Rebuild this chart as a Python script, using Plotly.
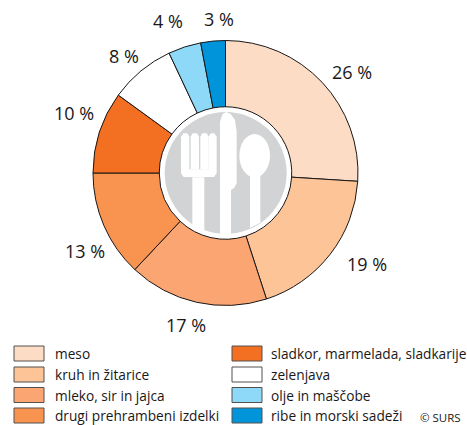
import plotly.graph_objects as go

categories = ["meso", "kruh in žitarice", "mleko, sir in jajca", "drugi prehrambeni izdelki",
              "sladkor, marmelada, sladkarije", "zelenjava", "olje in maščobe", "ribe in morski sadeži"]
values = [26, 19, 17, 13, 10, 8, 4, 3]
colors = ["#FDDCC6", "#FDC498", "#FBA672", "#F99450", "#F36F21", "#FFFFFF", "#8ED8F8", "#0095DA"]
label_positions = [(352, 72), (367, 264), (186, 325), (85, 251), (74, 113), (124, 56), (168, 21), (219, 19)]
W, H = 467, 425
FONT = "Open Sans, Noto Sans, sans-serif"
INK = "#1A1718"


def X(x):
    return x / W


def Y(y):
    return 1 - y / H


def zp(zx, zy):
    """zoomed icon coordinates to paper coordinates"""
    return X(140 + zx / 3), Y(90 + zy / 3)


def path(points, close=True):
    s = "M " + " L ".join(f"{a:.5f},{b:.5f}" for a, b in (zp(*p) for p in points))
    return s + (" Z" if close else "")


fig = go.Figure(go.Pie(
    values=values, labels=categories, sort=False, direction="clockwise", rotation=0,
    hole=0.5, textinfo="none", hoverinfo="label+percent", showlegend=False,
    marker=dict(colors=colors, line=dict(color=INK, width=1)),
    domain=dict(x=[X(93), X(358)], y=[Y(305.5), Y(40.5)]),
))

shapes = []
annotations = []


def paper_shape(**kw):
    kw.setdefault("line_width", 0)
    shapes.append(dict(xref="paper", yref="paper", layer="above", **kw))


def zcircle(cx, cy, rx, ry, fill):
    x0, y0 = zp(cx - rx, cy - ry)
    x1, y1 = zp(cx + rx, cy + ry)
    paper_shape(type="circle", x0=x0, y0=y0, x1=x1, y1=y1, fillcolor=fill)


def zpoly(points, fill):
    paper_shape(type="path", path=path(points), fillcolor=fill)


GRAY = "#D1D3D4"
zcircle(257, 249, 183, 183, GRAY)
# fork
zpoly([(157, 262), (193, 262), (193, 424), (157, 405)], "#FFFFFF")
zpoly([(123, 140), (130, 130), (142, 130), (148, 140), (148, 238), (206, 238), (206, 140), (212, 130),
       (223, 130), (230, 140), (230, 250), (222, 261), (131, 261), (123, 250)], "#FFFFFF")
zpoly([(152, 238), (152, 140), (158, 130), (171, 130), (177, 140), (177, 238)], "#FFFFFF")
zpoly([(181, 238), (181, 140), (187, 130), (200, 130), (206, 140), (206, 238)], "#FFFFFF")
# knife
zpoly([(240, 432), (240, 95), (248, 72), (258, 66), (272, 72), (285, 90), (290, 125), (290, 280),
       (283, 293), (273, 300), (273, 434)], "#FFFFFF")
# spoon
zcircle(344, 197, 46, 65, "#FFFFFF")
zpoly([(330, 250), (361, 250), (361, 398), (330, 414)], "#FFFFFF")

for v, (lx, ly) in zip(values, label_positions):
    annotations.append(dict(x=X(lx), y=Y(ly), xref="paper", yref="paper", text=f"{v} %", showarrow=False,
                            xanchor="center", yanchor="middle", font=dict(family=FONT, size=18, color=INK)))

rows = [353.5, 374.5, 395, 415.5]
for i, (name, col) in enumerate(zip(categories, colors)):
    sx = 14 if i < 4 else 232
    tx = 53 if i < 4 else 269
    cy = rows[i % 4]
    shapes.append(dict(type="rect", xref="paper", yref="paper", layer="above",
                       x0=X(sx), x1=X(sx + 30), y0=Y(cy + 7.5), y1=Y(cy - 7.5),
                       fillcolor=col, line=dict(color="#55504E", width=1)))
    annotations.append(dict(x=X(tx), y=Y(cy), xref="paper", yref="paper", text=name, showarrow=False,
                            xanchor="left", yanchor="middle", font=dict(family=FONT, size=13.7, color=INK)))

annotations.append(dict(x=X(463), y=Y(417), xref="paper", yref="paper", text="© SURS", showarrow=False,
                        xanchor="right", yanchor="middle", font=dict(family=FONT, size=11.5, color=INK)))

fig.update_layout(width=W, height=H, margin=dict(l=0, r=0, t=0, b=0), autosize=False,
                  paper_bgcolor="white", plot_bgcolor="white", shapes=shapes, annotations=annotations)
fig.write_html("out.html", config=dict(displayModeBar=False),
               post_script="document.body.style.margin='0';document.documentElement.style.overflow='hidden';")
